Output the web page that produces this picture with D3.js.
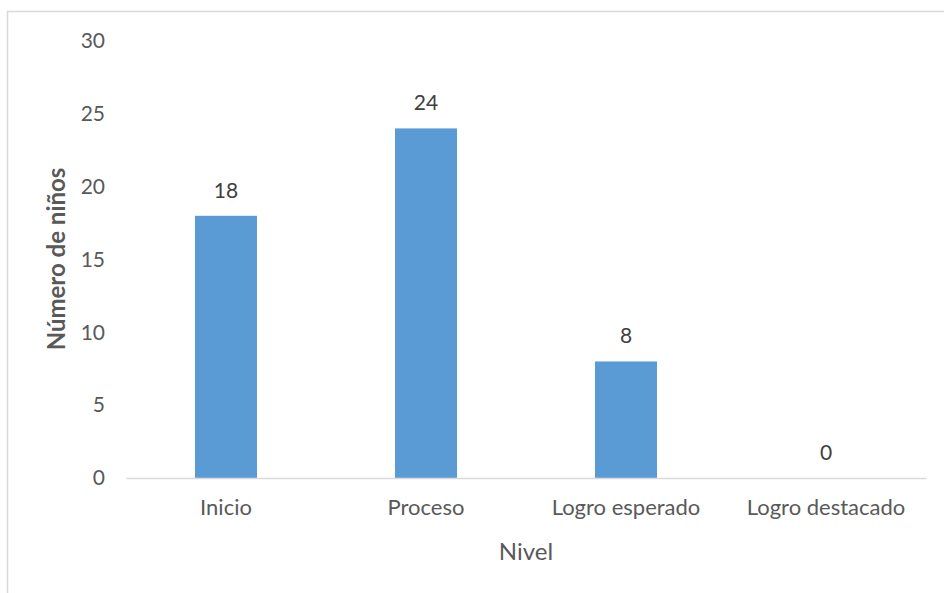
<!DOCTYPE html>
<html>
<head>
<meta charset="utf-8">
<script src="https://cdn.jsdelivr.net/npm/d3@7"></script>
<style>
  body { margin: 0; background: #fff; }
  text { font-family: Lato, "Open Sans", sans-serif; }
</style>
</head>
<body>
<div id="chart"></div>
<script>
const niveles = ['Inicio', 'Proceso', 'Logro esperado', 'Logro destacado'];
const ninos = [18, 24, 8, 0];
const yTicks = [0, 5, 10, 15, 20, 25, 30];

const w = 944;
const h = 593;
const plotLeft = 126, plotRight = 926, plotTop = 41, plotBottom = 478;

const svg = d3.select('#chart')
  .append('svg')
  .attr('width', w)
  .attr('height', h);

// chart frame
svg.append('rect')
  .attr('x', 7.5)
  .attr('y', 11.5)
  .attr('width', w + 20)
  .attr('height', h + 20)
  .attr('fill', 'none')
  .attr('stroke', '#d9d9d9')
  .attr('stroke-width', 1.5);

const xScale = d3.scaleBand()
  .domain(niveles)
  .range([plotLeft, plotRight])
  .paddingInner(0.69)
  .paddingOuter(0.345);

const yScale = d3.scaleLinear()
  .domain([0, 30])
  .range([plotBottom, plotTop]);

svg.selectAll('rect.bar')
  .data(niveles)
  .enter()
  .append('rect')
  .attr('class', 'bar')
  .attr('x', (d) => xScale(d))
  .attr('y', (d, i) => yScale(ninos[i]))
  .attr('width', xScale.bandwidth())
  .attr('height', (d, i) => plotBottom - yScale(ninos[i]))
  .attr('fill', '#5b9bd5');

// data labels
svg.selectAll('text.lbl')
  .data(niveles)
  .enter()
  .append('text')
  .attr('class', 'lbl')
  .attr('x', (d) => xScale(d) + xScale.bandwidth() / 2)
  .attr('y', (d, i) => yScale(ninos[i]) - 18)
  .attr('text-anchor', 'middle')
  .attr('font-size', 21)
  .attr('fill', '#404040')
  .text((d, i) => ninos[i]);

const yAxis = d3.axisLeft(yScale)
  .tickValues(yTicks)
  .tickSize(0)
  .tickPadding(21);
const gy = svg.append('g')
  .attr('transform', `translate(${plotLeft}, 0)`)
  .call(yAxis);
gy.select('.domain').remove();
gy.selectAll('text')
  .attr('font-size', 21)
  .attr('fill', '#595959')
  .attr('font-family', 'Lato, sans-serif');

const xAxis = d3.axisBottom(xScale)
  .tickSize(0)
  .tickPadding(21);
const gx = svg.append('g')
  .attr('transform', `translate(0, ${plotBottom})`)
  .call(xAxis);
gx.select('.domain')
  .attr('stroke', '#d9d9d9')
  .attr('stroke-width', 1.5);
gx.selectAll('text')
  .attr('font-size', 22)
  .attr('fill', '#595959')
  .attr('font-family', 'Lato, sans-serif');

svg.append('text')
  .attr('text-anchor', 'middle')
  .attr('x', 526)
  .attr('y', 560)
  .attr('font-size', 24)
  .attr('fill', '#595959')
  .text('Nivel');

svg.append('text')
  .attr('text-anchor', 'middle')
  .attr('transform', 'translate(65, 259) rotate(-90)')
  .attr('font-size', 24)
  .attr('font-weight', 'bold')
  .attr('fill', '#595959')
  .text('Número de niños');
</script>
</body>
</html>
